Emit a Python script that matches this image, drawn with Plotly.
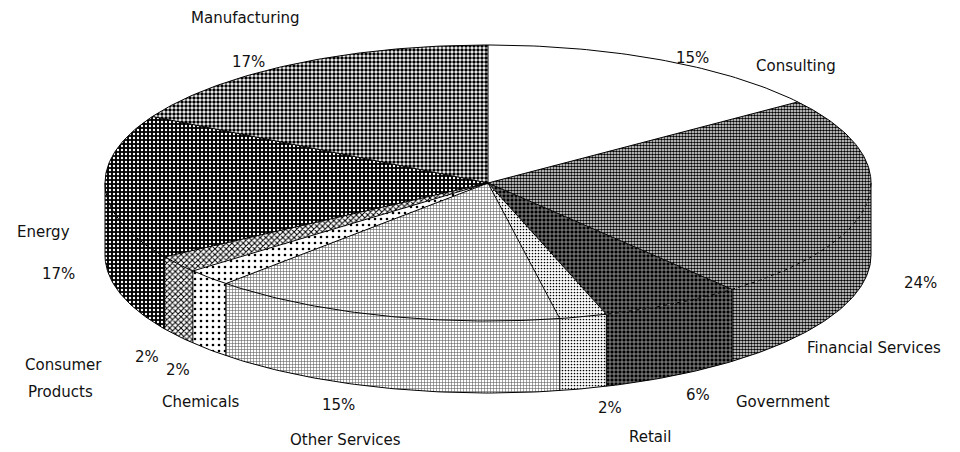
import numpy as np
import plotly.graph_objects as go

# ---- data ----
categories = ["Consulting", "Financial Services", "Government", "Retail",
              "Other Services", "Chemicals", "Consumer Products", "Energy",
              "Manufacturing"]
values = [15, 24, 6, 2, 15, 2, 2, 17, 17]
pct_labels = ["15%", "24%", "6%", "2%", "15%", "2%", "2%", "17%", "17%"]

# ---- styles (per slice) ----
patterns = [
    None,
    dict(shape=".", fgcolor="#000000", bgcolor="#ffffff", size=3, solidity=0.6),
    dict(shape="+", fgcolor="#b0b0b0", bgcolor="#000000", size=4, solidity=0.35),
    dict(shape=".", fgcolor="#000000", bgcolor="#ffffff", size=3, solidity=0.25),
    dict(shape="+", fgcolor="#606060", bgcolor="#ffffff", size=3, solidity=0.35),
    dict(shape=".", fgcolor="#000000", bgcolor="#ffffff", size=6, solidity=0.15),
    dict(shape="x", fgcolor="#000000", bgcolor="#ffffff", size=4, solidity=0.45),
    dict(shape=".", fgcolor="#ffffff", bgcolor="#000000", size=4, solidity=0.28),
    dict(shape=".", fgcolor="#000000", bgcolor="#ffffff", size=4, solidity=0.6),
]
fill_colors = ["#ffffff", "#8a8a8a", "#3a3a3a", "#dcdcdc", "#c0c0c0",
               "#f0f0f0", "#a0a0a0", "#2a2a2a", "#6a6a6a"]

# ---- geometry (pixel space) ----
W, H = 960, 452
cx, cy, rx, ry, depth = 488, 183, 383, 138, 72


def pt(t_deg, dy=0.0):
    t = np.radians(t_deg)
    return cx + rx * np.sin(t), cy - ry * np.cos(t) + dy


total = float(sum(values))
bounds = np.concatenate([[0], np.cumsum(values)]) / total * 360.0

fig = go.Figure()


def add_fill(xs, ys, i):
    kw = dict(x=xs, y=ys, mode="lines", fill="toself",
              fillcolor=fill_colors[i], line=dict(width=0),
              hoverinfo="skip", showlegend=False)
    if patterns[i] is not None:
        kw["fillpattern"] = dict(fillmode="replace", **patterns[i])
    fig.add_trace(go.Scatter(**kw))


def add_line(xs, ys, dash="solid"):
    fig.add_trace(go.Scatter(x=xs, y=ys, mode="lines",
                             line=dict(color="#000000", width=1, dash=dash),
                             hoverinfo="skip", showlegend=False))


# walls (visible front half: 90..270 deg)
for i in range(len(values)):
    a, b = max(bounds[i], 90.0), min(bounds[i + 1], 270.0)
    if a < b:
        t = np.linspace(a, b, 80)
        xt, yt = pt(t)
        xb, yb = pt(t[::-1], depth)
        add_fill(np.concatenate([xt, xb, [xt[0]]]),
                 np.concatenate([yt, yb, [yt[0]]]), i)

# top faces
for i in range(len(values)):
    t = np.linspace(bounds[i], bounds[i + 1], 120)
    xa, ya = pt(t)
    add_fill(np.concatenate([[cx], xa, [cx]]),
             np.concatenate([[cy], ya, [cy]]), i)

# outlines: top ellipse
t_back = np.linspace(-90, 90, 200)
add_line(*pt(t_back))
gov_end = bounds[3]
t_dash = np.linspace(90, gov_end, 80)
add_line(*pt(t_dash), dash="4px,3px")
t_front = np.linspace(gov_end, 270, 150)
add_line(*pt(t_front))
# bottom arc
t_bot = np.linspace(90, 270, 200)
add_line(*pt(t_bot, depth))
# vertical edges on the wall
for tb in [90.0] + [b for b in bounds if 90 < b < 270] + [270.0]:
    x0, y0 = pt(tb)
    x1, y1 = pt(tb, depth)
    add_line([x0, x1], [y0, y1])
# radial edges
for tb in bounds[:-1]:
    x0, y0 = pt(tb)
    add_line([cx, x0], [cy, y0])

# ---- labels ----
label_lines = {
    "Manufacturing": [("Manufacturing", 245, 18)],
    "Consulting": [("Consulting", 796, 66)],
    "Financial Services": [("Financial Services", 874, 348)],
    "Government": [("Government", 783, 402)],
    "Retail": [("Retail", 650, 437)],
    "Other Services": [("Other Services", 345, 440)],
    "Chemicals": [("Chemicals", 201, 402)],
    "Consumer Products": [("Consumer", 63, 365), ("Products", 60, 392)],
    "Energy": [("Energy", 43, 232)],
}
pct_pos = [(692, 58), (920, 283), (698, 395), (610, 408), (338, 405),
           (178, 370), (147, 357), (58, 274), (248, 62)]

font = dict(family="DejaVu Sans", size=15, color="#111111")
for i, name in enumerate(categories):
    for txt, x, y in label_lines[name]:
        fig.add_annotation(x=x, y=y, text=txt, showarrow=False, font=font,
                           xref="x", yref="y")
    px, py = pct_pos[i]
    fig.add_annotation(x=px, y=py, text=pct_labels[i], showarrow=False,
                       font=font, xref="x", yref="y")

fig.update_layout(
    width=W, height=H, margin=dict(l=0, r=0, t=0, b=0),
    paper_bgcolor="#ffffff", plot_bgcolor="#ffffff",
    xaxis=dict(range=[0, W], visible=False, fixedrange=True),
    yaxis=dict(range=[H, 0], visible=False, fixedrange=True),
    showlegend=False,
)
fig.write_html("out.html", config={"displayModeBar": False})
